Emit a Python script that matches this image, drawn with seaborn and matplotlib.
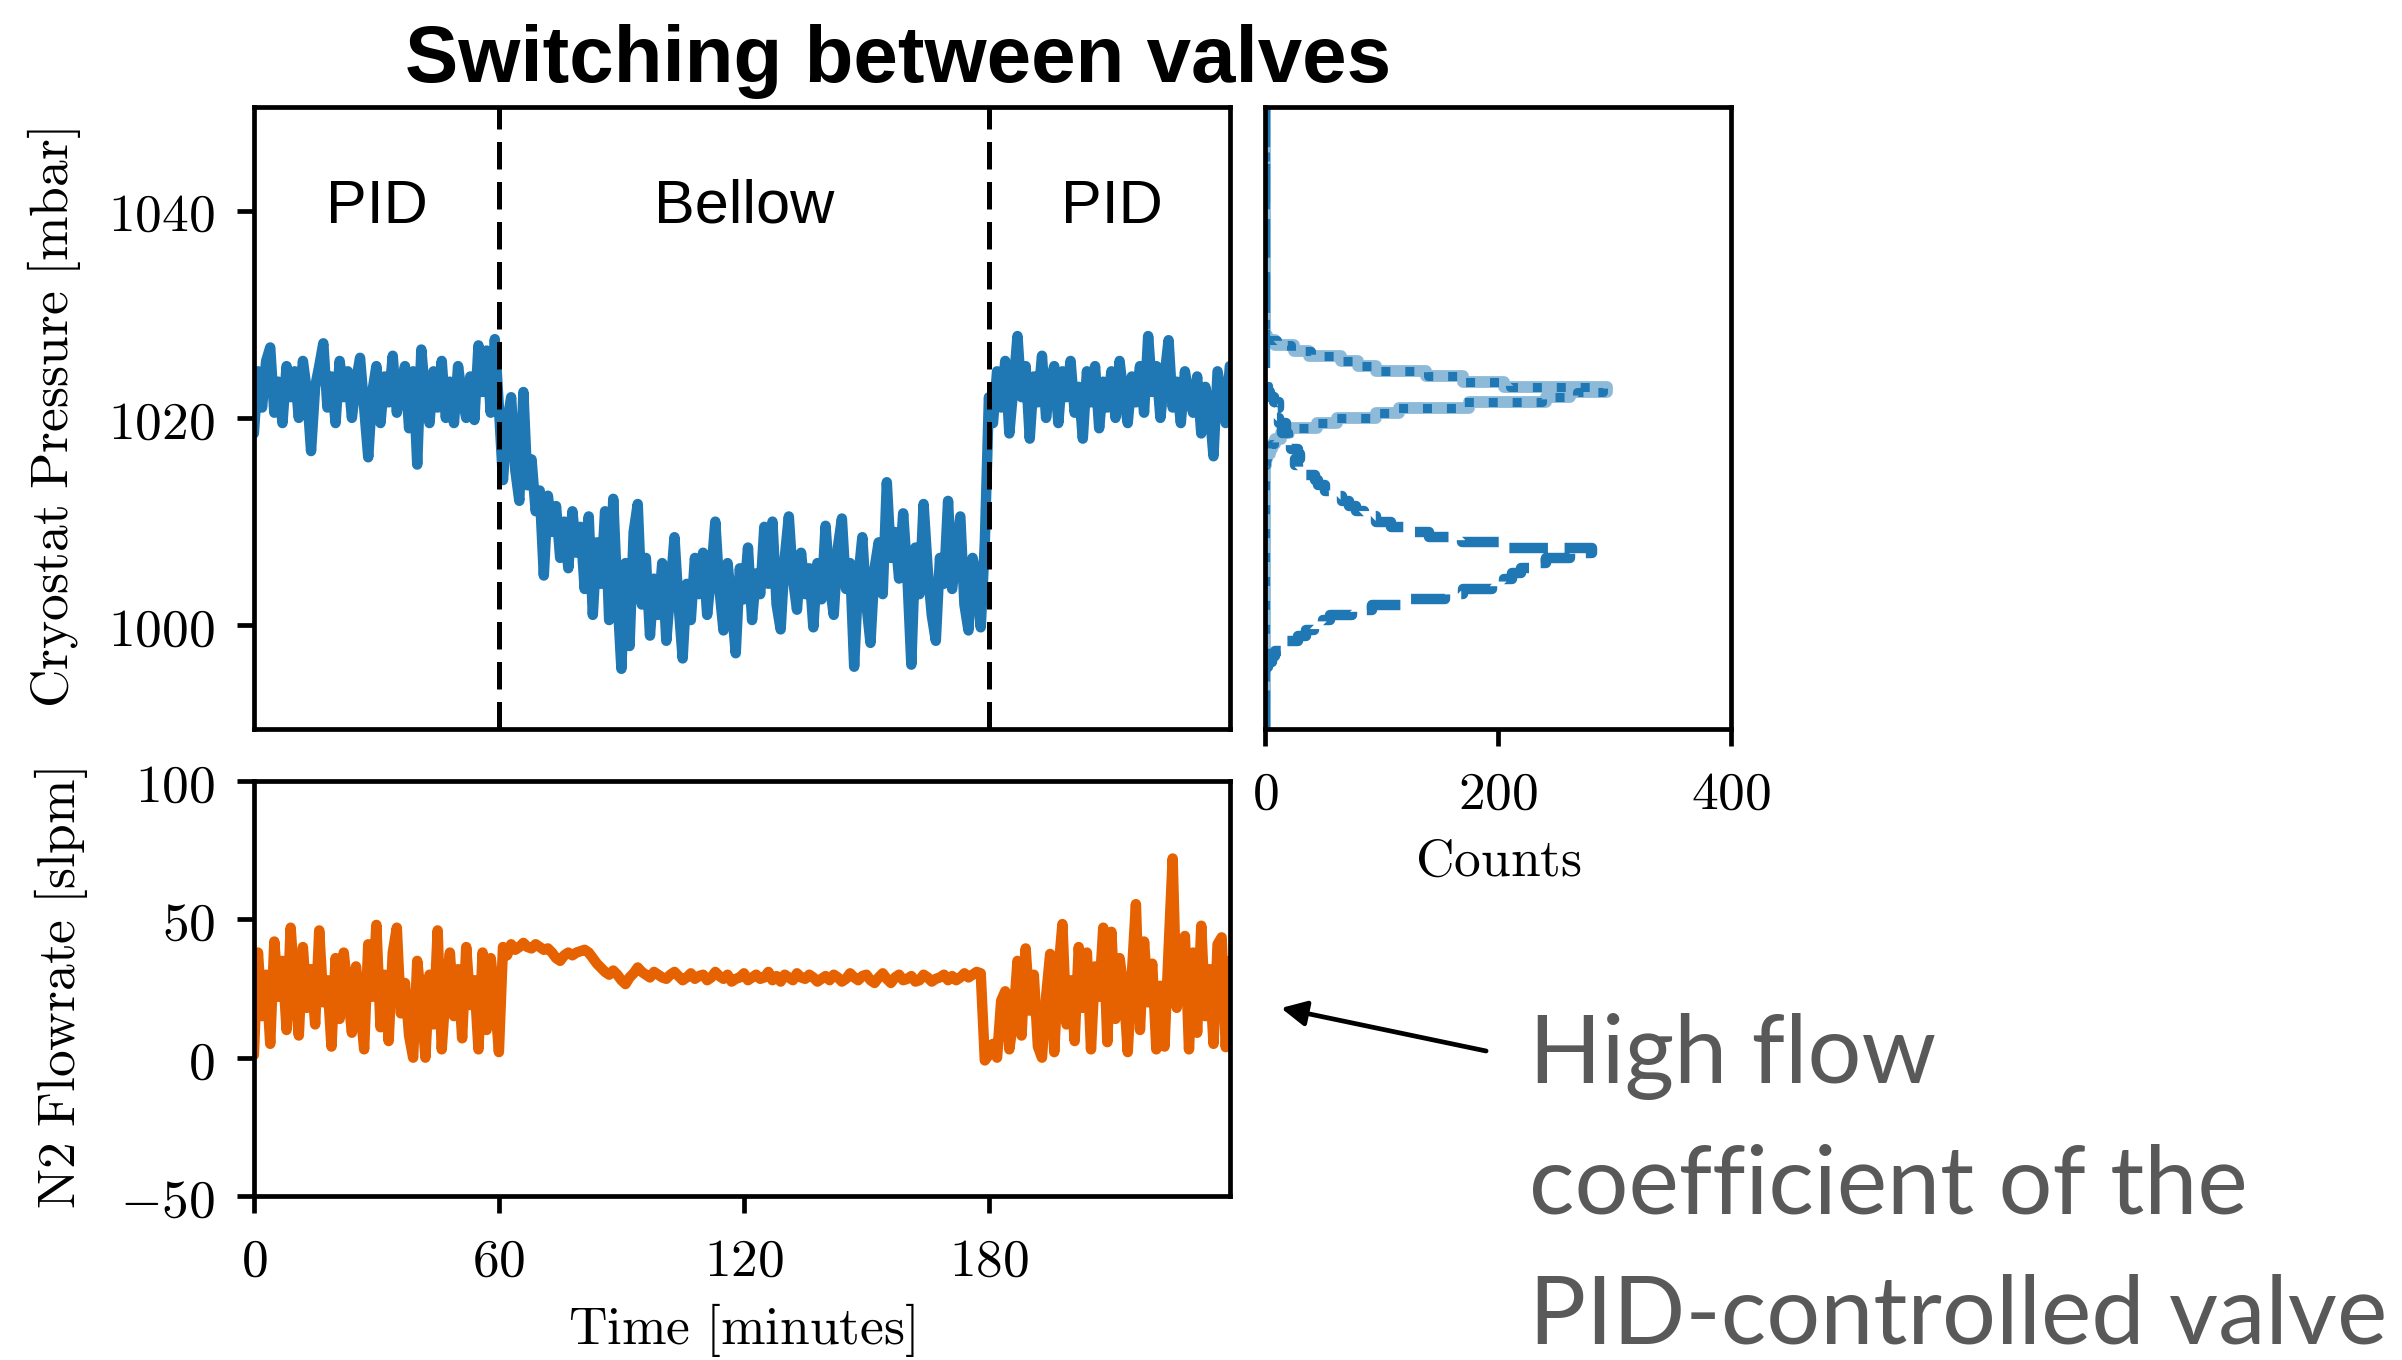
import numpy as np
import pandas as pd
import matplotlib
matplotlib.use("Agg")
import matplotlib.pyplot as plt
import matplotlib.ticker as mticker
import seaborn as sns

# ---- data ----
minutes = np.arange(240)

pressure = [
    1018.5, 1024.5, 1021.0, 1025.5, 1026.8, 1020.5, 1023.5, 1019.5, 1025.0, 1022.0,
    1024.5, 1020.0, 1025.5, 1022.5, 1016.8, 1023.0, 1025.0, 1027.2, 1021.0, 1024.0,
    1019.5, 1025.5, 1022.0, 1024.5, 1020.0, 1023.5, 1025.8, 1021.0, 1016.2, 1022.5,
    1025.0, 1019.5, 1024.0, 1021.5, 1026.0, 1020.5, 1023.0, 1025.0, 1019.0, 1024.5,
    1015.5, 1026.6, 1022.0, 1019.5, 1024.5, 1021.0, 1025.5, 1020.0, 1023.5, 1019.5,
    1025.0, 1022.0, 1020.0, 1024.0, 1019.8, 1027.0, 1022.5, 1026.5, 1020.5, 1027.6,
    1021.0, 1014.0, 1019.5, 1022.0, 1015.0, 1012.0, 1022.5, 1013.5, 1016.0, 1011.0,
    1013.0, 1004.8, 1012.5, 1009.0, 1011.5, 1006.5, 1010.0, 1005.5, 1011.0, 1007.0,
    1009.5, 1003.5, 1010.5, 1001.0, 1008.0, 1004.0, 1011.0, 1000.5, 1012.2, 1003.0,
    995.8, 1006.0, 998.0, 1009.0, 1011.7, 1002.0, 1006.5, 999.0, 1004.5, 1001.0,
    1006.0, 998.5, 1003.5, 1008.5, 1002.0, 996.8, 1004.0, 1000.5, 1006.5, 1003.0,
    1007.0, 1001.0, 1005.0, 1010.0, 1003.5, 999.5, 1006.0, 1002.0, 997.3, 1005.5,
    1002.5, 1007.5, 1000.5, 1005.0, 1003.0, 1009.5, 1004.0, 1010.0, 1002.0, 999.6,
    1006.5, 1010.5, 1004.5, 1001.5, 1007.0, 1003.0, 1005.5, 999.8, 1006.0, 1002.5,
    1009.6, 1004.0, 1001.0, 1007.5, 1010.3, 1003.5, 1006.0, 996.0, 1004.5, 1008.5,
    1002.0, 998.3, 1005.5, 1008.0, 1003.0, 1013.8, 1006.5, 1009.0, 1004.5, 1010.8,
    1005.0, 996.2, 1007.5, 1003.0, 1011.7, 1005.5, 1001.0, 998.5, 1006.5, 1004.0,
    1012.0, 1003.5, 1007.0, 1010.5, 1002.0, 999.5, 1006.5, 1004.5, 999.8, 1008.0,
    1022.0, 1019.5, 1024.5, 1021.0, 1025.5, 1018.5, 1023.0, 1027.9, 1022.0, 1025.0,
    1018.0, 1024.0, 1021.5, 1026.0, 1020.0, 1023.5, 1025.0, 1019.5, 1024.5, 1022.0,
    1025.5, 1020.5, 1023.0, 1018.0, 1024.5, 1021.5, 1025.0, 1019.0, 1023.5, 1021.0,
    1024.5, 1020.0, 1025.5, 1022.0, 1019.5, 1024.0, 1021.5, 1025.0, 1020.5, 1027.9,
    1022.5, 1025.0, 1020.0, 1024.0, 1027.5, 1021.0, 1023.5, 1019.5, 1024.5, 1022.0,
    1020.5, 1024.0, 1018.5, 1023.0, 1021.0, 1016.3, 1024.5, 1022.0, 1019.5, 1025.0,
]

flow = [
    1, 38, 15, 30, 5, 42, 22, 35, 10, 47,
    25, 8, 40, 18, 32, 12, 46, 20, 28, 4,
    36, 14, 38, 24, 9, 33, 19, 3, 41, 22,
    48, 11, 30, 6, 38, 47, 16, 27, 8, 0,
    35, 21, 0, 30, 12, 46, 3, 25, 38, 15,
    32, 7, 40, 19, 28, 3, 38, 10, 36, 22,
    2, 40, 37, 41, 39, 40, 41.5, 40, 39.5, 41,
    40, 39, 39.5, 38, 36, 35, 37, 38, 37, 38,
    38.5, 39, 38, 36, 34, 32.5, 31, 30, 31.5, 30,
    28, 26.6, 29, 30.5, 32.6, 31, 30, 29, 31, 30,
    29, 28.5, 30, 31, 29.5, 28, 29, 30.5, 28.5, 29.5,
    30, 28, 29, 31, 29.5, 28.5, 30, 27.5, 28.5, 29,
    30.5, 28, 29, 30, 28.5, 29, 31, 28, 29.5, 27.5,
    30, 29, 28, 30.5, 29, 28.5, 30, 29, 27.5, 28.5,
    29.5, 28, 30, 29, 27.5, 28.5, 30.5, 29, 28, 29.5,
    30, 28, 27, 29, 30.5, 28.5, 27, 29, 30, 28,
    28.5, 29.5, 27.5, 28, 30, 29, 27.5, 28.5, 29, 30,
    28, 29.5, 28, 29, 30.5, 29, 30, 31, 30.5, -1,
    1, 5, 0, 20.6, 24, 3, 14, 35, 8, 39.5,
    17, 30, 4, 0, 22, 37.5, 2, 31, 48.3, 12,
    28, 6, 40, 18, 38, 3, 33, 22, 47, 5.6,
    45.5, 14, 36, 25, 2, 30, 55.5, 10, 42, 20,
    34, 3, 26, 4, 39, 72, 18, 30, 44, 3,
    38, 9, 47.7, 15, 32, 5, 41, 43.5, 3.8, 35,
]

# histogram of the pressure (counts per 0.5 mbar bin)
pid_centers = np.arange(1015.75, 1028, 0.5)
pid_counts_all = [1, 2, 4, 6, 9, 14, 21, 45, 62, 95, 115, 175, 241,
                  262, 294, 205, 170, 138, 95, 80, 65, 38, 25, 9, 2]
pid_counts_dotted = [1, 2, 3, 5, 8, 12, 20, 42, 60, 98, 112, 170, 238,
                     268, 290, 210, 165, 140, 92, 78, 62, 40, 22, 10, 3]
bellow_centers = np.arange(996.25, 1023.5, 0.5)
bellow_counts = [3, 6, 9, 14, 18, 28, 35, 42, 50, 56,
                 75, 92, 125, 155, 170, 195, 205, 212, 220, 230,
                 241, 262, 281, 207, 169, 141, 121, 108, 95, 85,
                 78, 72, 66, 60, 52, 46, 43, 35, 28, 26,
                 30, 28, 22, 25, 20, 15, 18, 12, 8, 10,
                 12, 8, 4, 3, 2]

switch_times = [60, 180]
phase_labels = ["PID", "Bellow", "PID"]
phase_centres = [30, 120, 210]

blue = "#1f77b4"
orange = "#e66100"

sns.set_style("ticks")
plt.rcParams["mathtext.fontset"] = "cm"
plt.rcParams["text.color"] = "black"
plt.rcParams["axes.labelcolor"] = "black"
plt.rcParams["axes.linewidth"] = 3.4
plt.rcParams["axes.edgecolor"] = "black"
for ax_name in ["xtick", "ytick"]:
    plt.rcParams[ax_name + ".major.size"] = 12
    plt.rcParams[ax_name + ".major.width"] = 3.4
    plt.rcParams[ax_name + ".major.pad"] = 16
    plt.rcParams[ax_name + ".labelsize"] = 38.5
    plt.rcParams[ax_name + ".color"] = "black"
    plt.rcParams[ax_name + ".labelcolor"] = "black"
    plt.rcParams[ax_name + ".direction"] = "out"

math_fmt = mticker.FuncFormatter(lambda v, pos: "$%d$" % v)

fig = plt.figure(figsize=(24.02, 13.6), dpi=100)
ax_p = fig.add_axes([0.1057, 0.4640, 0.4063, 0.4574])
ax_h = fig.add_axes([0.5266, 0.4640, 0.1940, 0.4574])
ax_f = fig.add_axes([0.1057, 0.1206, 0.4063, 0.3051])

# pressure time series
sns.lineplot(x=minutes, y=pressure, ax=ax_p, color=blue, lw=7.5)
for t in switch_times:
    ax_p.axvline(t, color="black", linewidth=3.6, linestyle=(0, (5.5, 2.5)))
for lab, xc in zip(phase_labels, phase_centres):
    ax_p.text(xc, 1040.3, lab, ha="center", va="center", fontsize=44,
              color="black", family="Liberation Sans")
ax_p.set_xlim(0, 239)
ax_p.set_ylim(990, 1050)
ax_p.set_yticks([1000, 1020, 1040])
ax_p.yaxis.set_major_formatter(math_fmt)
ax_p.set_xticks([])
ax_p.set_xlabel("")
ax_p.set_ylabel(r"$\mathrm{Cryostat\ Pressure\ [mbar]}$", fontsize=38.5)
ax_p.yaxis.set_label_coords(-0.205, 0.5)
ax_p.yaxis.label.set_verticalalignment("center")

# pressure histograms
pid_all_df = pd.DataFrame({"pressure": pid_centers, "counts": pid_counts_all})
pid_dot_df = pd.DataFrame({"pressure": pid_centers, "counts": pid_counts_dotted})
bellow_df = pd.DataFrame({"pressure": bellow_centers, "counts": bellow_counts})

hist_kw = dict(y="pressure", weights="counts", binwidth=0.5,
               binrange=(990, 1050), element="step", fill=False,
               color=blue, ax=ax_h)
sns.histplot(data=pid_all_df, alpha=0.5, linewidth=8.5, **hist_kw)
sns.histplot(data=pid_dot_df, linestyle=":", linewidth=6.5, **hist_kw)
sns.histplot(data=bellow_df, linestyle="--", linewidth=7.5, **hist_kw)
ax_h.set_xlim(0, 400)
ax_h.set_ylim(990, 1050)
ax_h.set_xticks([0, 200, 400])
ax_h.xaxis.set_major_formatter(math_fmt)
ax_h.set_yticks([])
ax_h.set_ylabel("")
ax_h.set_xlabel(r"$\mathrm{Counts}$", fontsize=38.5)
ax_h.xaxis.set_label_coords(0.5, -0.212)
ax_h.xaxis.label.set_verticalalignment("center")

# flow time series
sns.lineplot(x=minutes, y=flow, ax=ax_f, color=orange, lw=7.5)
ax_f.set_xlim(0, 239)
ax_f.set_ylim(-50, 100)
ax_f.set_xticks([0, 60, 120, 180])
ax_f.set_yticks([-50, 0, 50, 100])
ax_f.xaxis.set_major_formatter(math_fmt)
ax_f.yaxis.set_major_formatter(math_fmt)
ax_f.set_xlabel(r"$\mathrm{Time\ [minutes]}$", fontsize=38.5)
ax_f.set_ylabel(r"$\mathrm{N2\ Flowrate\ [slpm]}$", fontsize=38.5)
ax_f.xaxis.set_label_coords(0.5, -0.323)
ax_f.xaxis.label.set_verticalalignment("center")
ax_f.yaxis.set_label_coords(-0.198, 0.5)
ax_f.yaxis.label.set_verticalalignment("center")

for ax in [ax_p, ax_h, ax_f]:
    for sp in ax.spines.values():
        sp.set_visible(True)

fig.text(0.374, 0.940, "Switching between valves", ha="center",
         va="baseline", fontsize=57.5, fontweight="bold", color="black",
         family="Liberation Sans")

# arrow and comment
ax_f.annotate("", xy=(0.5333, 0.2588), xycoords="figure fraction",
              xytext=(0.6187, 0.2272), textcoords="figure fraction",
              arrowprops=dict(arrowstyle="-|>", color="black", lw=3.4,
                              mutation_scale=38, shrinkA=0, shrinkB=0))
comment_lines = ["High flow", "coefficient of the", "PID-controlled valve"]
for i, line in enumerate(comment_lines):
    fig.text(0.6366, 1 - (1083 + 130 * i) / 1360, line, ha="left",
             va="baseline", fontsize=68.5, color="#595959", family="Lato")

fig.savefig("out.png", dpi=100)
